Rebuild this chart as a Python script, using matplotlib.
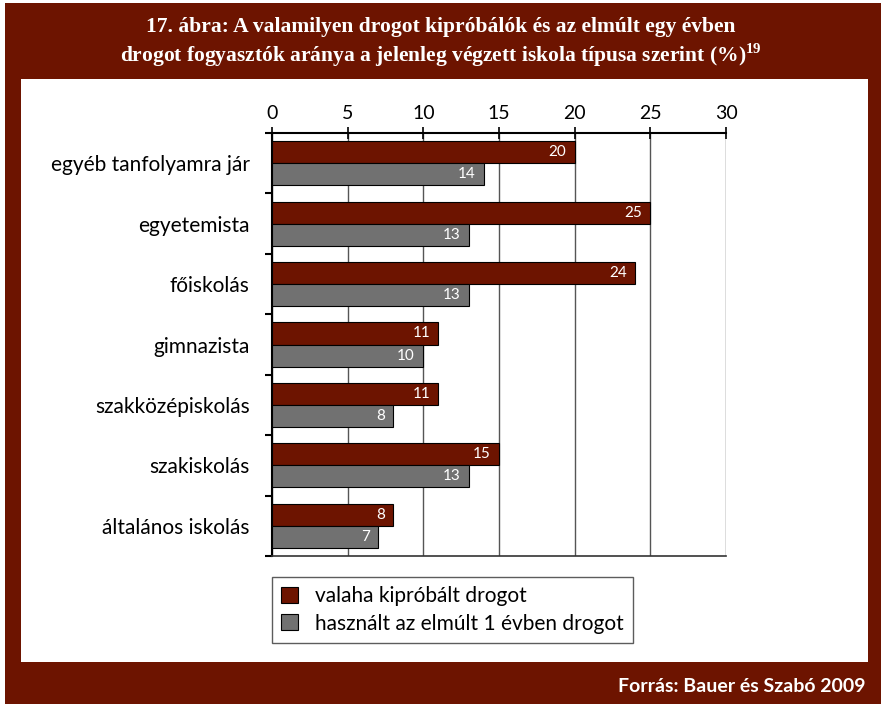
import numpy as np
import matplotlib
matplotlib.use('Agg')
import matplotlib.pyplot as plt
from matplotlib.patches import Rectangle

# adatok (%), fentről lefelé
kategoriak = ['egyéb tanfolyamra jár', 'egyetemista', 'főiskolás', 'gimnazista',
              'szakközépiskolás', 'szakiskolás', 'általános iskolás']
valaha = [20, 25, 24, 11, 11, 15, 8]
elmult_ev = [14, 13, 13, 10, 8, 13, 7]
sorozat_nevek = ['valaha kipróbált drogot', 'használt az elmúlt 1 évben drogot']
xtick_ertekek = [0, 5, 10, 15, 20, 25, 30]

PIROS = '#6d1400'
SZURKE = '#717171'

W, H = 881, 704
fig = plt.figure(figsize=(W / 100, H / 100), dpi=100, facecolor='white')

# keret: sötétpiros háttér, fehér belső panel
fig.patches.append(Rectangle((5 / W, 0), 1 - 5 / W, 1 - 3 / H, transform=fig.transFigure,
                             facecolor=PIROS, edgecolor='none', zorder=-2))
fig.patches.append(Rectangle((21 / W, 1 - 662 / H), (868 - 21) / W, (662 - 79) / H,
                             transform=fig.transFigure, facecolor='white',
                             edgecolor='none', zorder=-1))

cim_font = ['Liberation Serif', 'DejaVu Serif']
fig.text(441 / W, 1 - 27 / H, '17. ábra: A valamilyen drogot kipróbálók és az elmúlt egy évben',
         ha='center', va='center', color='white', fontsize=15.5, fontweight='bold',
         family=cim_font)
fig.text(441 / W, 1 - 55 / H,
         'drogot fogyasztók aránya a jelenleg végzett iskola típusa szerint (%)$^{\\mathregular{19}}$',
         ha='center', va='center', color='white', fontsize=15.5, fontweight='bold',
         family=cim_font)
fig.text(866 / W, 1 - 686 / H, 'Forrás: Bauer és Szabó 2009', ha='right', va='center',
         color='white', fontsize=14, fontweight='bold', family=['Lato', 'DejaVu Sans'])

ax = fig.add_axes([272 / W, 1 - 556 / H, (726 - 272) / W, (556 - 133) / H])
ax.set_facecolor('white')

n = len(kategoriak)
y = np.arange(n)
h = 0.365
ax.barh(y - h / 2, valaha, height=h, color=PIROS, edgecolor='black', linewidth=0.8,
        label=sorozat_nevek[0], zorder=3)
ax.barh(y + h / 2, elmult_ev, height=h, color=SZURKE, edgecolor='black', linewidth=0.8,
        label=sorozat_nevek[1], zorder=3)

cimke_font = ['Lato', 'DejaVu Sans']
for i in range(n):
    ax.text(valaha[i] - 0.55, y[i] - h / 2, str(valaha[i]), ha='right', va='center',
            color='white', fontsize=11, family=cimke_font, zorder=4)
    ax.text(elmult_ev[i] - 0.55, y[i] + h / 2, str(elmult_ev[i]), ha='right', va='center',
            color='white', fontsize=11, family=cimke_font, zorder=4)

ax.set_xlim(0, 30)
ax.set_ylim(n - 0.5, -0.5)
ax.set_xticks(xtick_ertekek)
ax.set_xticklabels([str(v) for v in xtick_ertekek], family=cimke_font, fontsize=14)
ax.xaxis.tick_top()
ax.tick_params(axis='x', direction='inout', length=8, width=1.2, pad=4, color='black')
ax.grid(axis='x', color='#555555', linewidth=1, zorder=0)

# kategórianevek a sávok közepén, jelölők a határokon
ax.set_yticks(y)
ax.set_yticklabels(kategoriak, family=cimke_font, fontsize=15)
ax.tick_params(axis='y', length=0, pad=16)
ax.set_yticks(np.arange(n + 1) - 0.5, minor=True)
ax.tick_params(axis='y', which='minor', direction='out', length=5, width=1.5, color='black')

ax.spines['right'].set_visible(False)
ax.spines['top'].set_linewidth(1.5)
ax.spines['left'].set_linewidth(1.5)
ax.spines['bottom'].set_color('#333333')
ax.spines['bottom'].set_linewidth(1.2)

leg = fig.legend(loc='upper left', bbox_to_anchor=(272 / W, 1 - 577 / H),
                 bbox_transform=fig.transFigure, frameon=True, fancybox=False,
                 prop={'family': cimke_font, 'size': 15}, handlelength=0.8,
                 handleheight=0.8, handletextpad=0.8, labelspacing=0.35,
                 borderpad=0.45, borderaxespad=0)
leg.get_frame().set_edgecolor('#333333')
leg.get_frame().set_linewidth(1)

fig.savefig('out.png', dpi=100, facecolor=fig.get_facecolor())
